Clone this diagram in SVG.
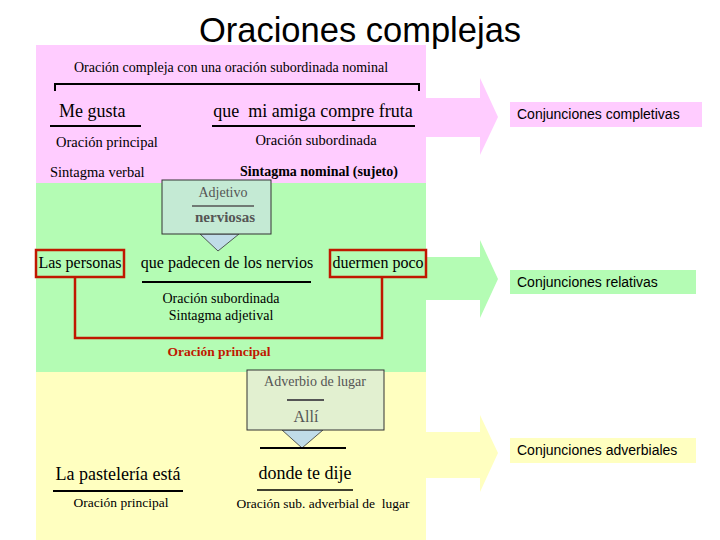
<svg xmlns="http://www.w3.org/2000/svg" width="720" height="540" viewBox="0 0 720 540">
<style>
.s{font-family:"Liberation Serif","Times New Roman",serif;fill:#000}
.a{font-family:"Liberation Sans",Arial,sans-serif;fill:#000}
.ln{stroke:#000;stroke-width:2;fill:none}
.red{stroke:#c01800;stroke-width:2.5;fill:none}
.g{fill:#555}
</style>
<rect width="720" height="540" fill="#fff"/>
<text class="a" x="360" y="42" font-size="34.5" text-anchor="middle">Oraciones complejas</text>

<g id="panel-nominal">
<rect x="36" y="45" width="390" height="138" fill="#ffccff"/>
<polygon points="426,98 480,98 480,78 498,117 480,155 480,137 426,137" fill="#ffccff"/>
<rect x="510" y="102" width="192" height="25" fill="#ffccff"/>
<text class="a" x="517" y="119" font-size="14">Conjunciones completivas</text>
<text class="s" x="231" y="72" font-size="14" text-anchor="middle">Oración compleja con una oración subordinada nominal</text>
<path class="ln" d="M55,91 V84 H419 V91"/>
<text class="s" x="59" y="117" font-size="18">Me gusta</text>
<line class="ln" x1="50" y1="126" x2="141" y2="126"/>
<text class="s" x="313" y="117" font-size="18" text-anchor="middle" xml:space="preserve">que  mi amiga compre fruta</text>
<line class="ln" x1="212" y1="126" x2="415" y2="126"/>
<text class="s" x="56" y="147" font-size="14.5">Oración principal</text>
<text class="s" x="316" y="145" font-size="14.5" text-anchor="middle">Oración subordinada</text>
<text class="s" x="50" y="177" font-size="14.5">Sintagma verbal</text>
<text class="s" x="319" y="176" font-size="14" font-weight="bold" text-anchor="middle">Sintagma nominal (sujeto)</text>
</g>

<g id="panel-relativa">
<rect x="36" y="183" width="390" height="189" fill="#b4fcb4"/>
<polygon points="426,257 480,257 480,240 498,279 480,318 480,300 426,300" fill="#b4fcb4"/>
<rect x="510" y="270" width="186" height="24" fill="#b4fcb4"/>
<text class="a" x="517" y="287" font-size="14">Conjunciones relativas</text>
<g id="adjetivo">
<polygon points="200,234 239,234 218,251" fill="#c0dce8" stroke="#333" stroke-width="0.8"/>
<rect x="162" y="180" width="109" height="54" fill="#c4ead4" stroke="#333" stroke-width="1"/>
<text class="s g" x="223" y="197" font-size="14" text-anchor="middle">Adjetivo</text>
<line x1="192" y1="206" x2="254" y2="206" stroke="#555" stroke-width="1.5"/>
<text class="s g" x="225" y="222" font-size="15" font-weight="bold" text-anchor="middle">nerviosas</text>
</g>
<rect class="red" x="36" y="250" width="88" height="27"/>
<text class="s" x="80" y="268" font-size="16" text-anchor="middle">Las personas</text>
<text class="s" x="227" y="268" font-size="16" text-anchor="middle">que padecen de los nervios</text>
<rect class="red" x="330" y="250" width="96" height="27"/>
<text class="s" x="378" y="268" font-size="16" text-anchor="middle">duermen poco</text>
<line class="ln" x1="142" y1="282" x2="311" y2="282"/>
<text class="s" x="221" y="303" font-size="14" text-anchor="middle">Oración subordinada</text>
<text class="s" x="221" y="320" font-size="14" text-anchor="middle">Sintagma adjetival</text>
<path class="red" d="M75,277 V338 H382 V277"/>
<text class="s" x="219" y="356" font-size="13.5" font-weight="bold" text-anchor="middle" style="fill:#c01800">Oración principal</text>
</g>

<g id="panel-adverbial">
<rect x="36" y="372" width="390" height="168" fill="#ffffc0"/>
<polygon points="426,432 480,432 480,415 498,453 480,492 480,478 426,478" fill="#ffffc0"/>
<rect x="510" y="438" width="186" height="25" fill="#ffffc0"/>
<text class="a" x="517" y="455" font-size="14">Conjunciones adverbiales</text>
<g id="adverbio">
<polygon points="282,430 323,430 302,448" fill="#c0dce8" stroke="#333" stroke-width="0.8"/>
<rect x="247" y="370" width="137" height="60" fill="#e2f0d0" stroke="#333" stroke-width="1"/>
<text class="s g" x="315" y="386" font-size="14" text-anchor="middle">Adverbio de lugar</text>
<line x1="287" y1="400" x2="324" y2="400" stroke="#555" stroke-width="2"/>
<text class="s g" x="306" y="422" font-size="16" text-anchor="middle">Allí</text>
</g>
<line class="ln" x1="260" y1="448" x2="346" y2="448"/>
<text class="s" x="118" y="480" font-size="18" text-anchor="middle">La pastelería está</text>
<line class="ln" x1="53" y1="491" x2="183" y2="491"/>
<text class="s" x="121" y="507" font-size="13.5" text-anchor="middle">Oración principal</text>
<text class="s" x="305" y="479" font-size="18" text-anchor="middle">donde te dije</text>
<line x1="257" y1="490" x2="353" y2="490" stroke="#000" stroke-width="1.5"/>
<text class="s" x="323" y="508" font-size="13.5" text-anchor="middle" xml:space="preserve">Oración sub. adverbial de  lugar</text>
</g>
</svg>
